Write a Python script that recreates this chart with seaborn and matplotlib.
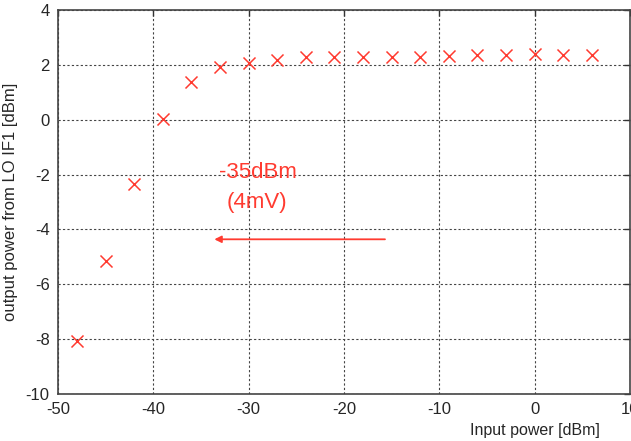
import matplotlib
matplotlib.use("Agg")
import matplotlib.pyplot as plt
import seaborn as sns
import pandas as pd

# Measured sweep: input power vs. output power from LO IF1
input_power = [-48, -45, -42, -39, -36, -33, -30, -27, -24, -21, -18, -15,
               -12, -9, -6, -3, 0, 3, 6]
output_power = [-8.05, -5.15, -2.33, 0.03, 1.37, 1.94, 2.08, 2.18, 2.27, 2.29,
                2.29, 2.29, 2.29, 2.33, 2.37, 2.37, 2.38, 2.37, 2.37]

x_ticks = [-50, -40, -30, -20, -10, 0, 10]
y_ticks = [-10, -8, -6, -4, -2, 0, 2, 4]

marker_color = "#ff3b30"

sns.set_style("white")
plt.rcParams["font.family"] = ["Liberation Sans", "DejaVu Sans"]

fig = plt.figure(figsize=(6.31, 4.41), dpi=100)
ax = fig.add_axes([0.0919, 0.1066, 0.9065, 0.8707])

df = pd.DataFrame({"inp": input_power, "out": output_power})
sns.scatterplot(data=df, x="inp", y="out", marker="x", color=marker_color,
                s=75, linewidth=1.1, ax=ax, zorder=3)

ax.set_xlim(-50, 10)
ax.set_ylim(-10, 4)
ax.set_xticks(x_ticks)
ax.set_yticks(y_ticks)
ax.set_xticklabels([str(t) for t in x_ticks], fontsize=12)
ax.set_yticklabels([str(t) for t in y_ticks], fontsize=12)

ax.grid(True, linestyle=(0, (2, 2)), color="#444444", linewidth=0.8)
ax.tick_params(direction="in", length=4, width=1, color="#333333",
               top=True, right=True, pad=6)
for s in ax.spines.values():
    s.set_color("#444444")
    s.set_linewidth(1.2)

ax.set_xlabel("Input power [dBm]", fontsize=11.5)
ax.xaxis.set_label_coords(0.834, -0.075)
ax.set_ylabel("output power from LO IF1 [dBm]", fontsize=12)
ax.yaxis.set_label_coords(-0.07, 0.5)

# Annotation: input threshold
ax.text(-29.0, -1.92, "-35dBm", color=marker_color, fontsize=16,
        ha="center", va="center")
ax.text(-29.1, -3.0, "(4mV)", color=marker_color, fontsize=16,
        ha="center", va="center")
ax.annotate("", xy=(-33.6, -4.36), xytext=(-15.7, -4.36),
            arrowprops=dict(arrowstyle="-|>", color=marker_color, lw=1.3,
                            mutation_scale=10, shrinkA=0, shrinkB=0))

fig.savefig("out.png", dpi=100)
